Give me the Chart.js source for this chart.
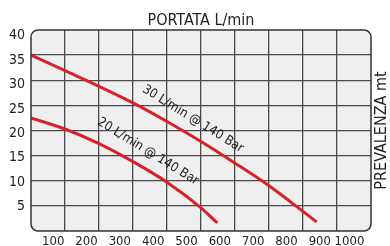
<!DOCTYPE html>
<html>
<head>
<meta charset="utf-8">
<script src="https://cdn.jsdelivr.net/npm/chart.js@4.4.1/dist/chart.umd.min.js"></script>
<style>
  html, body { margin: 0; padding: 0; background: #fff; }
  #wrap { width: 390px; height: 246px; }
</style>
</head>
<body>
<div id="wrap"><canvas id="grafico" width="390" height="246"></canvas></div>
<script>
// portata (L/min) e prevalenza (mt)
const portata30 = [0, 100, 200, 300, 400, 500, 600, 700, 800, 840];
const prevalenza30 = [35, 31.9, 28.8, 25.5, 21.8, 17.8, 13.5, 9.0, 3.9, 1.8];
const portata20 = [0, 100, 200, 300, 400, 500, 548];
const prevalenza20 = [22.5, 20.3, 17.4, 13.8, 9.7, 4.6, 1.6];
const nomiSerie = ["30 L/min @ 140 Bar", "20 L/min @ 140 Bar"];
const tickX = [100, 200, 300, 400, 500, 600, 700, 800, 900, 1000];
const tickY = [5, 10, 15, 20, 25, 30, 35, 40];
const titoloX = "PORTATA L/min";
const titoloY = "PREVALENZA mt";

// dove mettere le scritte sulle curve (in unità del grafico)
const etichette = [
  { testo: nomiSerie[0], x: 476, y: 22.3 },
  { testo: nomiSerie[1], x: 344, y: 15.8 }
];

const FONT = "'Liberation Sans Narrow', 'DejaVu Sans Condensed', 'Roboto Condensed', sans-serif";
const ROSSO = "#d8222b";
const GRIGLIA = "#4a4a4a";
const TRASPARENTE = "rgba(0,0,0,0)";
Chart.defaults.font.family = FONT;
Chart.defaults.color = "#222";

function rettangoloTondo(ctx, x, y, w, h, r) {
  ctx.beginPath();
  ctx.moveTo(x + r, y);
  ctx.lineTo(x + w - r, y);
  ctx.arcTo(x + w, y, x + w, y + r, r);
  ctx.lineTo(x + w, y + h - r);
  ctx.arcTo(x + w, y + h, x + w - r, y + h, r);
  ctx.lineTo(x + r, y + h);
  ctx.arcTo(x, y + h, x, y + h - r, r);
  ctx.lineTo(x, y + r);
  ctx.arcTo(x, y, x + r, y, r);
  ctx.closePath();
}

const cornice = {
  id: "cornice",
  beforeDraw(chart) {
    const { ctx, chartArea: a } = chart;
    ctx.save();
    rettangoloTondo(ctx, a.left, a.top, a.right - a.left, a.bottom - a.top, 7);
    ctx.fillStyle = "#efefef";
    ctx.fill();
    ctx.restore();
  },
  afterDatasetsDraw(chart) {
    const { ctx, chartArea: a, scales } = chart;
    ctx.save();
    rettangoloTondo(ctx, a.left, a.top, a.right - a.left, a.bottom - a.top, 7);
    ctx.strokeStyle = "#333";
    ctx.lineWidth = 1.5;
    ctx.stroke();

    ctx.fillStyle = "#222";
    ctx.textAlign = "center";
    ctx.textBaseline = "middle";
    ctx.font = "13px " + FONT;
    etichette.forEach(e => {
      ctx.save();
      ctx.translate(scales.x.getPixelForValue(e.x), scales.y.getPixelForValue(e.y));
      ctx.rotate(31.8 * Math.PI / 180);
      ctx.fillText(e.testo, 0, 0);
      ctx.restore();
    });

    ctx.font = "16px " + FONT;
    ctx.fillText(titoloX, (a.left + a.right) / 2, 21);
    ctx.save();
    ctx.translate(382, (a.top + a.bottom) / 2);
    ctx.rotate(-Math.PI / 2);
    ctx.fillText(titoloY, 0, 0);
    ctx.restore();
    ctx.restore();
  }
};

const serie = (xs, ys, nome) => ({
  label: nome,
  data: xs.map((v, i) => ({ x: v, y: ys[i] })),
  borderColor: ROSSO,
  borderWidth: 3,
  pointRadius: 0,
  cubicInterpolationMode: "monotone",
  fill: false
});

new Chart(document.getElementById("grafico").getContext("2d"), {
  type: "line",
  data: {
    datasets: [
      serie(portata30, prevalenza30, nomiSerie[0]),
      serie(portata20, prevalenza20, nomiSerie[1])
    ]
  },
  options: {
    responsive: false,
    animation: false,
    devicePixelRatio: 1,
    layout: { padding: { top: 30, right: 19, left: 0, bottom: 0 } },
    plugins: {
      legend: { display: false },
      tooltip: { enabled: false }
    },
    scales: {
      x: {
        type: "linear",
        min: 0,
        max: 1000,
        afterBuildTicks: s => { s.ticks = tickX.map(v => ({ value: v })); },
        afterFit: s => { s.height = 0; },
        border: { display: false },
        grid: {
          drawTicks: false,
          lineWidth: 1.3,
          color: c => (c.tick && c.tick.value === 1000 ? TRASPARENTE : GRIGLIA)
        },
        ticks: { display: false }
      },
      // asse solo per le etichette, leggermente sfalsate come nell'originale
      xEtichette: {
        type: "linear",
        position: "bottom",
        min: 0,
        max: 1020,
        afterBuildTicks: s => { s.ticks = tickX.map(v => ({ value: v })); },
        afterFit: s => { s.height = 15; },
        border: { display: false },
        grid: { display: false, drawTicks: false },
        ticks: {
          align: "end",
          padding: 3,
          autoSkip: false,
          maxRotation: 0,
          font: { size: 13 },
          color: "#222",
          callback: v => String(v)
        }
      },
      y: {
        type: "linear",
        min: 0,
        max: 40,
        afterBuildTicks: s => { s.ticks = tickY.map(v => ({ value: v })); },
        afterFit: s => { s.width = 0; },
        border: { display: false },
        grid: {
          drawTicks: false,
          lineWidth: 1.3,
          color: c => (c.tick && c.tick.value === 40 ? TRASPARENTE : GRIGLIA)
        },
        ticks: { display: false }
      },
      yEtichette: {
        type: "linear",
        position: "left",
        min: 0,
        max: 41.2,
        afterBuildTicks: s => { s.ticks = tickY.map(v => ({ value: v })); },
        afterFit: s => { s.width = 31; },
        border: { display: false },
        grid: { display: false, drawTicks: false },
        ticks: {
          padding: 6,
          font: { size: 14 },
          color: "#222"
        }
      }
    }
  },
  plugins: [cornice]
});
</script>
</body>
</html>
